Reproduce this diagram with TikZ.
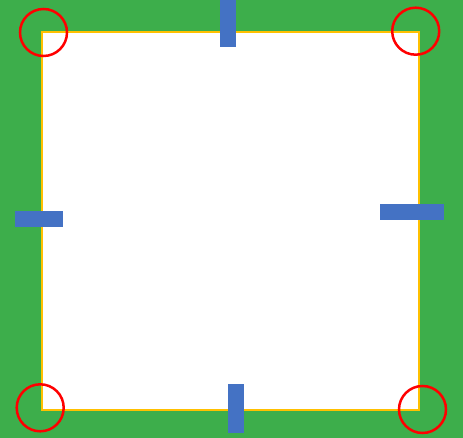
\documentclass[tikz,border=0pt]{standalone}
\usepackage{tikz}
\usetikzlibrary{positioning}
\definecolor{FieldGreen}{HTML}{3DAE4B}
\definecolor{LineGold}{HTML}{FFC000}
\definecolor{MarkRed}{HTML}{FF0000}
\definecolor{BarBlue}{HTML}{4472C4}
\tikzset{
  field/.style={rectangle,fill=white,draw=LineGold,line width=2.5pt,
                minimum width=377pt,minimum height=378pt,inner sep=0pt},
  corner/.style={circle,draw=MarkRed,line width=2.5pt,
                 minimum size=47pt,inner sep=0pt},
  vbar/.style={rectangle,fill=BarBlue,minimum width=16pt,minimum height=48pt,inner sep=0pt},
  hbar/.style={rectangle,fill=BarBlue,minimum width=48pt,minimum height=16pt,inner sep=0pt}
}
\begin{document}
\begin{tikzpicture}[x=1pt,y=-1pt]
  \fill[FieldGreen] (0,0) rectangle (463,438);
  \useasboundingbox (0,0) rectangle (463,438);

  \node[field] (sq) at (230.5,221) {};

  % edge bars
  \node[vbar] (top) at (228,23.5) {};
  \node[vbar,minimum height=49pt] (bot) at (236.3,408) {};
  \node[hbar] (lft) at (39.2,219) {};
  \node[hbar,minimum width=64pt] (rgt) at (412,212.5) {};

  % corner rings
  \node[corner] (tl) at (43.5,32.5) {};
  \node[corner] (tr) at (415.7,31.2) {};
  \node[corner] (bl) at (40.2,407.8) {};
  \node[corner] (br) at (422.5,409.5) {};
\end{tikzpicture}
\end{document}
